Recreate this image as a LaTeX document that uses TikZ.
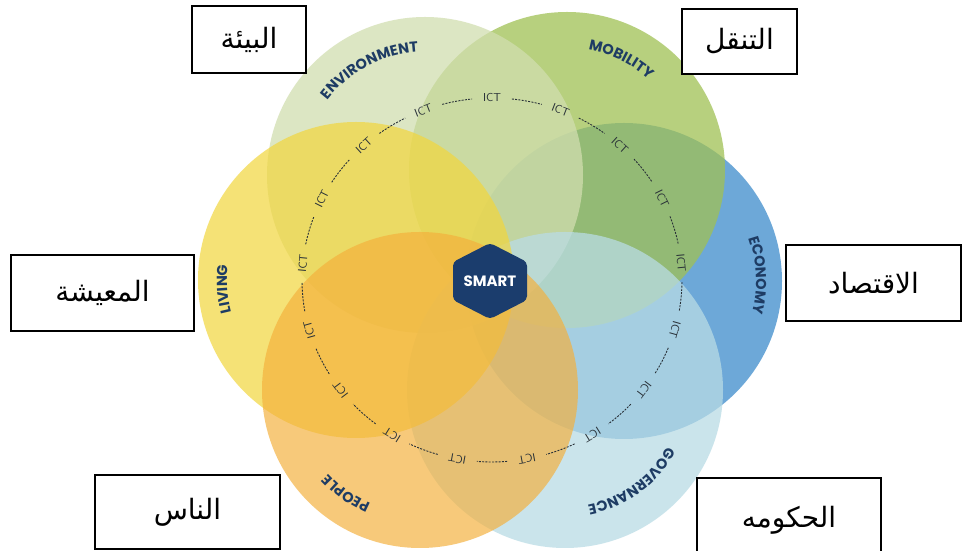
\documentclass[tikz,border=0pt]{standalone}
\usepackage{fontspec}
\usetikzlibrary{decorations.text}
\TeXXeTstate=1
\newfontfamily\arabicfont[Script=Arabic]{DejaVu Sans}
\newfontfamily\lblfont[LetterSpace=14]{Poppins}
\newfontfamily\smartfont{Poppins}
\newcommand\catfont{\lblfont\bfseries\fontsize{14.5}{15}\selectfont}
\definecolor{envc}{RGB}{209,222,175}
\definecolor{mobc}{RGB}{160,193,84}
\definecolor{ecoc}{RGB}{61,139,203}
\definecolor{govc}{RGB}{185,220,229}
\definecolor{peoc}{RGB}{244,176,60}
\definecolor{livc}{RGB}{242,214,60}
\definecolor{navc}{RGB}{30,60,100}
\definecolor{hexc}{RGB}{27,61,109}
\definecolor{ictc}{RGB}{40,48,55}
\begin{document}
\begin{tikzpicture}[x=1pt,y=1pt,
  disc/.style={fill opacity=0.75},
  arbox/.style={draw=black, line width=1.2pt, fill=white, inner sep=0pt,
    font=\arabicfont\fontsize{28}{32}\selectfont},
  ictlbl/.style={font=\sffamily\fontsize{11.5}{12}\selectfont, text=ictc, inner sep=0.5pt},
  ictline/.style={draw=ictc, line width=0.9pt, dash pattern=on 2pt off 1.3pt},
  catlbl/.style={decorate, decoration={text along path, text align=center, text color=navc}},
  smarttxt/.style={text=white, font=\smartfont\bfseries\fontsize{15}{16}\selectfont, inner sep=0pt}
]
\clip (0,0) rectangle (962,551);
\fill[white] (0,0) rectangle (962,551);
% discs
\fill[ecoc, disc] (624,270) circle[radius=158];
\fill[mobc, disc] (567,381) circle[radius=158];
\fill[envc, disc] (425,376) circle[radius=158];
\fill[govc, disc] (565,161) circle[radius=158];
\fill[livc, disc, fill opacity=0.7] (356,271) circle[radius=158];
\fill[peoc, disc, fill opacity=0.68] (420,161) circle[radius=158];
% category labels
\path[catlbl, decoration={text={|\catfont|ENVIRONMENT}}] (425,376) ++(157.8:123) arc[start angle=157.8, end angle=77.8, radius=123];
\path[catlbl, decoration={text={|\catfont|MOBILITY}}] (567,381) ++(104:122) arc[start angle=104, end angle=24, radius=122];
\path[catlbl, decoration={text={|\catfont|ECONOMY}}] (624,270) ++(42.5:132) arc[start angle=42.5, end angle=-37.5, radius=132];
\path[catlbl, decoration={text={|\catfont|GOVERNANCE}}] (565,161) ++(-14:117) arc[start angle=-14, end angle=-94, radius=117];
\path[catlbl, decoration={text={|\catfont|PEOPLE}}] (420,161) ++(-85.5:124) arc[start angle=-85.5, end angle=-165.5, radius=124];
\path[catlbl, decoration={text={|\catfont|LIVING}}] (356,271) ++(224:129) arc[start angle=224, end angle=144, radius=129];
% ICT ring
\foreach \i in {0,...,16}{
  \pgfmathsetmacro\a{90-\i*360/17}
  \node[ictlbl, rotate=\a-90] (ict\i) at ({492+190*cos(\a)},{271+182*sin(\a)}) {ICT};
  \draw[ictline] ({492+190*cos(\a-6)},{271+182*sin(\a-6)}) arc[start angle=\a-6, end angle=\a-360/17+6, x radius=190, y radius=182];
}
% SMART hexagon
\fill[hexc, rounded corners=4pt] (490,308) -- (527,289) -- (527,251) -- (490,232) -- (453,251) -- (453,289) -- cycle;
\node[smarttxt] (smart) at (490,270) {SMART};
% Arabic boxes
\node[arbox, minimum width=114pt, minimum height=67pt] (benv) at (249,511.5) {\beginR البيئة\endR};
\node[arbox, minimum width=115pt, minimum height=65pt] (bmob) at (739.5,509.5) {\beginR التنقل\endR};
\node[arbox, minimum width=183pt, minimum height=76pt] (bliv) at (102.5,258) {\beginR المعيشة\endR};
\node[arbox, minimum width=175pt, minimum height=76pt] (beco) at (873.5,268) {\beginR الاقتصاد\endR};
\node[arbox, minimum width=185pt, minimum height=74pt] (bpeo) at (187.5,39) {\beginR الناس\endR};
\node[arbox, minimum width=184pt, minimum height=84pt] (bgov) at (789,31) {\beginR الحكومه\endR};
\end{tikzpicture}
\end{document}
